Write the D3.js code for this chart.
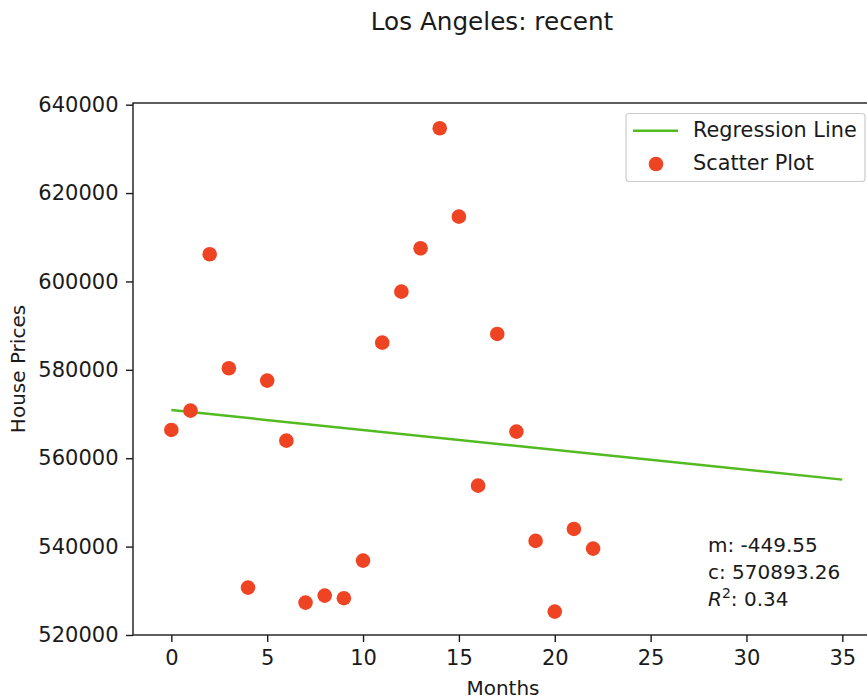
<!DOCTYPE html>
<html>
<head>
<meta charset="utf-8">
<script src="https://cdn.jsdelivr.net/npm/d3@7"></script>
<style>
  html, body { margin: 0; padding: 0; background: #fff; overflow: hidden; }
  svg { display: block; font-family: "DejaVu Sans", sans-serif; }
  .tick text { font-size: 21px; fill: #1a1a1a; }
</style>
</head>
<body>
<svg id="chart" width="867" height="700"></svg>
<script>
// Data.
const months = [ 0, 1, 2, 3, 4, 5, 6, 7, 8, 9, 10, 11, 12, 13, 14, 15, 16, 17, 18, 19, 20, 21, 22 ];
const prices = [
  566400, 570770, 606150, 580360, 530720, 577560, 563980, 527330, 528910, 528330, 536830, 586150,
  597690, 607510, 634660, 614660, 553800, 588120, 566020, 541290, 525290, 544000, 539550
];
const fitMonths = [ 0, 35 ];
const fitPrices = [ 570893.26, 555159.01 ];
const xTicks    = [ 0, 5, 10, 15, 20, 25, 30, 35 ];
const yTicks    = [ 520000, 540000, 560000, 580000, 600000, 620000, 640000 ];
const fitLines  = [ 'm: -449.55', 'c: 570893.26' ];
const rSquared  = '0.34';

const titleText  = 'Los Angeles: recent';
const xLabelText = 'Months';
const yLabelText = 'House Prices';
const legendKeys = [ 'Regression Line', 'Scatter Plot' ];

// Colours.
const dotColor  = '#ee4424';
const lineColor = '#52bb22';
const ink       = '#1a1a1a';

// Plot box.
const box = { left: 133, right: 873, top: 103, bottom: 635 };

const svg = d3.select( '#chart' );

const x = d3.scaleLinear( )
  .domain( [ -2, 36.6 ] )
  .range( [ box.left, box.right ] );
const y = d3.scaleLinear( )
  .domain( [ 520000, 640380 ] )
  .range( [ box.bottom, box.top ] );

// Title.
svg.append( 'text' )
  .attr( 'x', 492 )
  .attr( 'y', 30 )
  .attr( 'text-anchor', 'middle' )
  .style( 'font-size', '24.7px' )
  .style( 'fill', ink )
  .text( titleText );

// Axes.
const xAxis = d3.axisBottom( x )
  .tickValues( xTicks )
  .tickSize( 7 )
  .tickPadding( 8.5 )
  .tickFormat( d => d );
const yAxis = d3.axisLeft( y )
  .tickValues( yTicks )
  .tickSize( 7 )
  .tickPadding( 7.5 )
  .tickFormat( d => d );

const gx = svg.append( 'g' )
  .attr( 'transform', `translate( 0, ${box.bottom} )` )
  .call( xAxis );
const gy = svg.append( 'g' )
  .attr( 'transform', `translate( ${box.left}, 0 )` )
  .call( yAxis );
[ gx, gy ].forEach( g => {
  g.select( '.domain' ).remove( );
  g.selectAll( '.tick line' ).attr( 'stroke', ink ).attr( 'stroke-width', 1.4 );
  g.attr( 'font-family', null ).attr( 'font-size', null );
} );

// Axis labels.
svg.append( 'text' )
  .attr( 'x', ( box.left + box.right ) / 2 )
  .attr( 'y', 695 )
  .attr( 'text-anchor', 'middle' )
  .style( 'font-size', '20px' )
  .style( 'fill', ink )
  .text( xLabelText );
svg.append( 'text' )
  .attr( 'transform', `translate( 24.5, ${( box.top + box.bottom ) / 2} ) rotate( -90 )` )
  .attr( 'text-anchor', 'middle' )
  .style( 'font-size', '20px' )
  .style( 'fill', ink )
  .text( yLabelText );

// Regression line.
const line = d3.line( )
  .x( ( d, i ) => x( fitMonths[i] ) )
  .y( d => y( d ) );
svg.append( 'path' )
  .datum( fitPrices )
  .attr( 'd', line )
  .attr( 'fill', 'none' )
  .attr( 'stroke', lineColor )
  .attr( 'stroke-width', 2.5 );

// Scatter dots.
svg.append( 'g' )
  .selectAll( 'circle' )
  .data( prices )
  .enter( )
  .append( 'circle' )
    .attr( 'cx', ( d, i ) => x( months[i] ) )
    .attr( 'cy', d => y( d ) )
    .attr( 'r' , 7.3 )
    .attr( 'fill', dotColor );

// Frame.
svg.append( 'rect' )
  .attr( 'x', box.left )
  .attr( 'y', box.top )
  .attr( 'width', box.right - box.left )
  .attr( 'height', box.bottom - box.top )
  .attr( 'fill', 'none' )
  .attr( 'stroke', ink )
  .attr( 'stroke-width', 1.4 );

// Legend.
const legend = svg.append( 'g' );
legend.append( 'rect' )
  .attr( 'x', 626 ).attr( 'y', 113.5 )
  .attr( 'width', 239 ).attr( 'height', 68 )
  .attr( 'rx', 3 )
  .attr( 'fill', '#fff' ).attr( 'fill-opacity', 0.8 )
  .attr( 'stroke', '#cccccc' ).attr( 'stroke-width', 1.2 );
legend.append( 'line' )
  .attr( 'x1', 633 ).attr( 'x2', 678 )
  .attr( 'y1', 130.7 ).attr( 'y2', 130.7 )
  .attr( 'stroke', lineColor ).attr( 'stroke-width', 2.5 );
legend.append( 'circle' )
  .attr( 'cx', 656 ).attr( 'cy', 164 ).attr( 'r', 7.3 )
  .attr( 'fill', dotColor );
legend.selectAll( 'text.key' )
  .data( legendKeys )
  .enter( )
  .append( 'text' )
    .attr( 'class', 'key' )
    .attr( 'x', 693 )
    .attr( 'y', ( d, i ) => 137 + i * 32.5 )
    .style( 'font-size', '20.8px' )
    .style( 'fill', ink )
    .text( d => d );

// Fit stats.
const stats = svg.append( 'g' )
  .style( 'font-size', '20px' )
  .style( 'fill', ink );
stats.selectAll( 'text.fit' )
  .data( fitLines )
  .enter( )
  .append( 'text' )
    .attr( 'class', 'fit' )
    .attr( 'x', 708 )
    .attr( 'y', ( d, i ) => 552 + i * 27 )
    .text( d => d );
const r2 = stats.append( 'text' )
  .attr( 'x', 708 )
  .attr( 'y', 606 );
r2.append( 'tspan' ).style( 'font-style', 'italic' ).text( 'R' );
r2.append( 'tspan' ).attr( 'dy', -8 ).style( 'font-size', '14px' ).text( '2' );
r2.append( 'tspan' ).attr( 'dy', 8 ).text( ': ' + rSquared );
</script>
</body>
</html>
